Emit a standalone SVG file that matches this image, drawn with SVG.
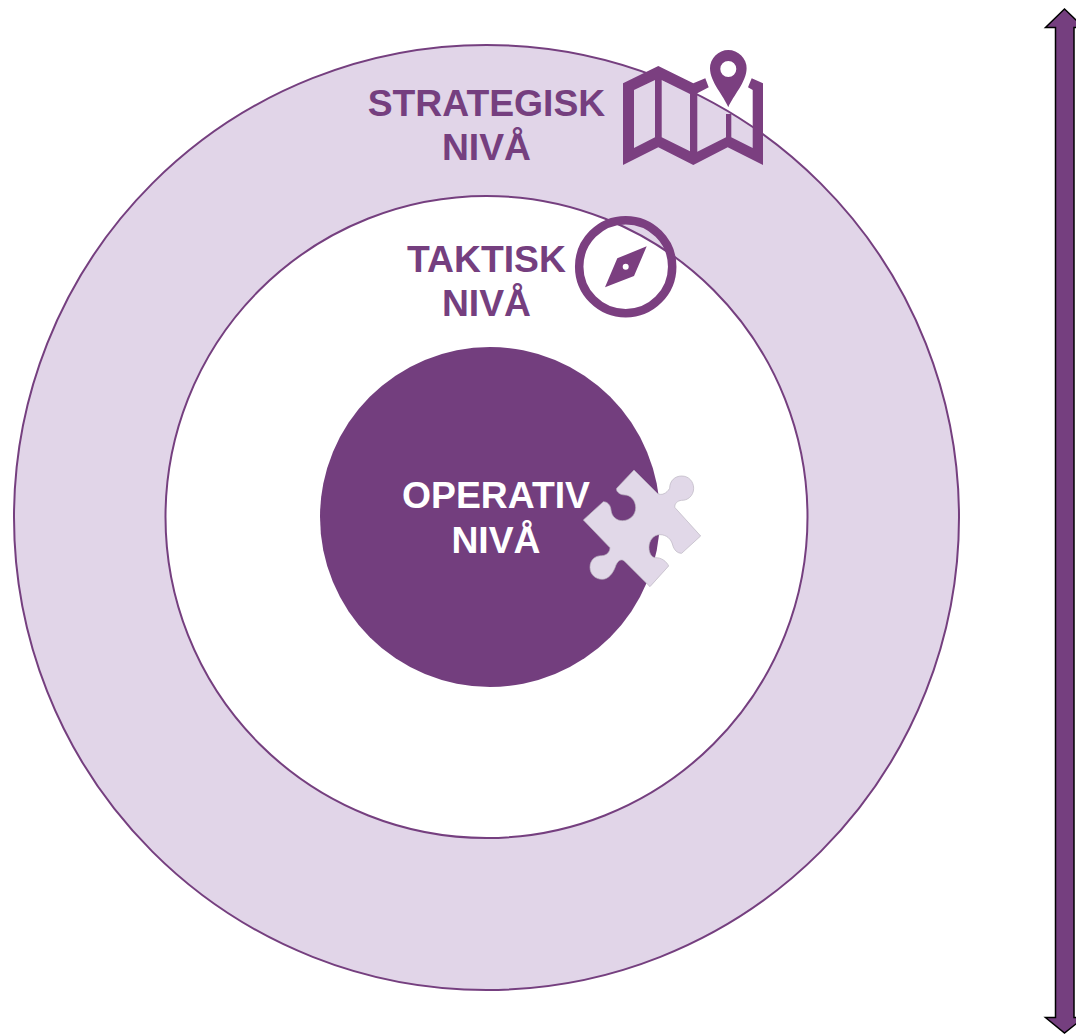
<svg xmlns="http://www.w3.org/2000/svg" width="1076" height="1035" viewBox="0 0 1076 1035">
<style>
.t{font-family:"Liberation Sans",Arial,sans-serif;font-weight:700;font-size:37.300px;text-anchor:middle;fill:#753f7f}
.w{fill:#fff}
.ic{fill:#7b3f80}
</style>
<rect width="1076" height="1035" fill="#fff"/>
<g id="strategisk">
<circle cx="486.500" cy="517.500" r="472.500" fill="#e1d5e8" stroke="#753f7f" stroke-width="2"/>
</g>
<g id="taktisk">
<circle cx="486.500" cy="517" r="321" fill="#fff" stroke="#753f7f" stroke-width="2"/>
</g>
<g id="operativ">
<circle cx="490" cy="517" r="170" fill="#733e7e"/>
</g>
<g id="map-icon">
<path class="ic" fill-rule="evenodd" d="M623 83.300 658.300 66 693.300 83.300 705.300 78.300 708.700 87.300 697.300 93.300V151.700L726 137.300V114H731.300V137.300L752.700 148V90L748 87.300 751.700 78.300 763 83.300V165L727.700 147.300 693.300 165 658.300 147.300 623 165ZM634 90V148L655 137.300V80ZM661.700 80V137.300L690 151.300V94Z"/>
<path class="ic" fill-rule="evenodd" d="M728.300 107.300C724 96 710 82 710 68.300A18.300 18.300 0 0 1 746.600 68.300C746.600 82 733 96 728.300 107.300ZM728.300 61A8 8 0 1 0 728.300 77 8 8 0 1 0 728.300 61Z"/>
</g>
<g id="compass-icon">
<circle cx="625.700" cy="266.700" r="46.500" fill="none" stroke="#7b3f80" stroke-width="8.500"/>
<path class="ic" fill-rule="evenodd" d="M646.700 246.300 617.300 258.300 605 287.300 634 276ZM625.700 263.700A3 3 0 1 0 625.700 269.700 3 3 0 1 0 625.700 263.700Z"/>
</g>
<g id="puzzle-icon">
<path transform="translate(570 460) scale(.3333)" fill="#e1d8e8" stroke="#b9b3c0" stroke-width="2" d="M192 30 262 100C275 108 290 100 299 85 299 62 315 48 335 48 357 48 371 65 371 85 371 108 352 122 335 121 322 122 312 132 315 143L392 228 335 280C322 280 312 270 308 255 304 238 290 224 270 224 250 224 237 242 237 262 237 280 245 292 255 293 275 292 290 305 296 318L240 380 165 305C155 295 145 300 138 315 130 340 115 358 97 358 75 358 60 342 60 322 60 300 75 287 95 287 110 287 120 275 120 263L40 180 100 125C112 125 122 135 123 150 125 170 140 182 157 182 180 182 197 165 197 143 197 120 180 105 165 105 150 105 137 95 140 85Z"/>
</g>
<g id="labels">
<text class="t" x="486.500" y="116">STRATEGISK</text>
<text class="t" x="486.500" y="160">NIVÅ</text>
<text class="t" x="486.500" y="272">TAKTISK</text>
<text class="t" x="486.500" y="316">NIVÅ</text>
<text class="t w" x="496" y="508">OPERATIV</text>
<text class="t w" x="496" y="553">NIVÅ</text>
</g>
<g id="connectors">
<path d="M1064.500 9 1084 27.500H1074V1017.500H1084L1064.500 1033 1045.500 1017.500H1055.500V27.500H1045.500Z" fill="#753f7f" stroke="#000" stroke-width="1.500"/>
</g>
</svg>
